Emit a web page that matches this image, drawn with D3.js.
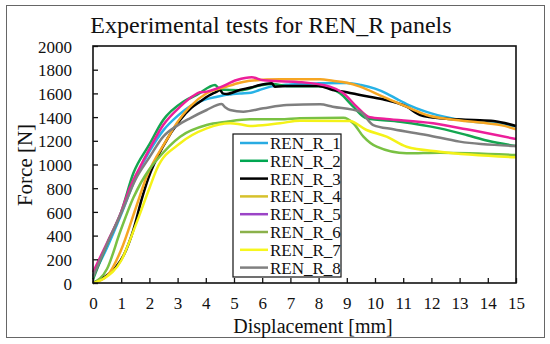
<!DOCTYPE html>
<html>
<head>
<meta charset="utf-8">
<script src="https://cdn.jsdelivr.net/npm/d3@7"></script>
<style>
  body { margin: 0; background: #fff; }
</style>
</head>
<body>
<svg width="550" height="344"></svg>
<script>
// displacement [mm], force [N]
var ren1 = [[0,60],[0.5,300],[1,580],[1.5,880],[2,1110],[2.5,1290],[3,1410],[3.5,1500],[4,1550],[4.4,1572],[4.8,1590],[5.2,1600],[5.6,1606],[5.9,1629],[6.3,1657],[7,1675],[8,1685],[9,1688],[9.5,1671],[10,1640],[10.4,1601],[10.8,1550],[11.2,1502],[11.8,1446],[12.7,1390],[13.5,1361],[14.4,1345],[15,1320]];
var ren2 = [[0,30],[0.5,330],[1,600],[1.43,926],[2,1170],[2.49,1376],[3.2,1530],[3.68,1587],[4.33,1671],[4.5,1632],[5.2,1626],[5.92,1666],[6.34,1680],[7,1660],[8,1660],[8.4,1645],[8.76,1601],[9.23,1488],[9.7,1390],[10.89,1361],[12.3,1305],[13.25,1249],[14,1200],[15,1156]];
var ren3 = [[0,0],[0.4,50],[0.8,130],[1.1,240],[1.43,447],[1.73,710],[1.96,883],[2.5,1160],[3.09,1376],[3.5,1480],[3.79,1530],[4.1,1580],[4.39,1615],[4.5,1629],[4.6,1600],[4.74,1595],[5.2,1629],[5.6,1650],[5.92,1671],[6.34,1685],[6.45,1657],[7,1662],[8,1662],[8.5,1629],[9,1610],[9.47,1586],[10.28,1550],[11.12,1488],[11.6,1418],[12.3,1390],[13.5,1376],[14.2,1367],[15,1325]];
var ren4 = [[0,0],[0.5,60],[1,280],[1.5,620],[1.9,897],[2.61,1207],[3,1360],[3.44,1488],[4.03,1601],[4.74,1657],[5.2,1690],[5.57,1707],[6.63,1719],[8.05,1719],[8.5,1707],[9,1690],[9.47,1657],[10.28,1572],[11.12,1488],[11.83,1418],[12.66,1381],[13.96,1348],[14.5,1330],[15,1297]];
var ren5 = [[0,90],[0.5,340],[1,600],[1.3,800],[1.67,981],[2,1130],[2.49,1333],[3.09,1488],[3.56,1580],[3.79,1609],[4.03,1615],[4.5,1651],[5.1,1713],[5.63,1736],[6.04,1710],[7.22,1697],[8.4,1657],[8.88,1601],[9.35,1488],[9.82,1398],[10.4,1384],[12.06,1348],[13.25,1297],[15,1215]];
var ren6 = [[0,0],[0.5,120],[0.96,430],[1.43,720],[2,960],[2.26,1038],[3.09,1235],[4.03,1333],[4.74,1361],[5.57,1381],[6.63,1381],[7.34,1390],[8.88,1395],[9.23,1348],[9.59,1235],[10.06,1150],[11.12,1094],[12.3,1100],[15,1080]];
var ren7 = [[0,0],[0.4,40],[1,190],[1.5,480],[2,800],[2.26,960],[3.09,1179],[4.03,1305],[4.86,1348],[5.2,1340],[5.57,1325],[6.63,1348],[7.34,1370],[9.1,1367],[9.7,1291],[10.41,1235],[11.12,1150],[12.3,1108],[15,1061]];
var ren8 = [[0,50],[0.5,330],[1,590],[1.5,870],[2,1060],[2.49,1235],[3,1330],[3.44,1390],[4.03,1460],[4.56,1511],[4.7,1480],[4.86,1460],[5.33,1446],[6.04,1474],[6.87,1502],[8.05,1508],[8.5,1488],[9.47,1446],[9.94,1333],[10.65,1297],[11.83,1249],[13,1193],[15,1156]];

var seriesNames = ['REN_R_1', 'REN_R_2', 'REN_R_3', 'REN_R_4', 'REN_R_5', 'REN_R_6', 'REN_R_7', 'REN_R_8'];
var seriesData = [ren1, ren2, ren3, ren4, ren5, ren6, ren7, ren8];
var lineColors = ['#27b2e6', '#14a650', '#000000', '#f6a623', '#ec1f9a', '#79c143', '#f4f218', '#7f7f7f'];
var legendColors = ['#29abe2', '#00a651', '#000000', '#d6c12c', '#9b44c6', '#8bb14b', '#f7f71e', '#808080'];
var xTicks = d3.range(0, 16, 1);
var yTicks = d3.range(0, 2001, 200);

var serif = "'Liberation Serif', 'DejaVu Serif', serif";

var svg = d3.select('svg');
var padding = {t: 46, r: 34, b: 61, l: 93};
var chartWidth = +svg.attr('width') - padding.l - padding.r;
var chartHeight = +svg.attr('height') - padding.t - padding.b;

// outer frame
svg.append('rect')
    .attr('x', 6.5).attr('y', 5.5)
    .attr('width', 538).attr('height', 332)
    .attr('fill', 'none')
    .attr('stroke', '#666')
    .attr('stroke-width', 1);

svg.append('text')
    .attr('x', 271).attr('y', 33)
    .attr('text-anchor', 'middle')
    .attr('font-family', serif)
    .attr('font-size', 24)
    .attr('fill', '#111')
    .text('Experimental tests for REN_R panels');

var chartG = svg.append('g')
    .attr('transform', 'translate(' + [padding.l, padding.t] + ')');

var xScale = d3.scaleLinear().domain([0, 15]).range([0, chartWidth]);
var yScale = d3.scaleLinear().domain([0, 2000]).range([chartHeight, 0]);

// ticks point inward, labels sit outside
var xAxis = d3.axisBottom(xScale).tickValues(xTicks).tickFormat(d3.format('d'))
    .tickSizeInner(-5).tickSizeOuter(0).tickPadding(14);
var yAxis = d3.axisLeft(yScale).tickValues(yTicks).tickFormat(d3.format('d'))
    .tickSizeInner(-5).tickSizeOuter(0).tickPadding(21);

var line = d3.line()
    .x(function(d) { return xScale(d[0]); })
    .y(function(d) { return yScale(d[1]); })
    .curve(d3.curveMonotoneX);

chartG.selectAll('path.series')
    .data(seriesData)
    .enter()
    .append('path')
    .attr('class', 'series')
    .attr('d', line)
    .attr('fill', 'none')
    .attr('stroke', function(d, i) { return lineColors[i]; })
    .attr('stroke-width', 2.5)
    .attr('stroke-linejoin', 'round');

chartG.append('g')
    .attr('class', 'x-axis')
    .attr('transform', 'translate(0,' + chartHeight + ')')
    .call(xAxis);

chartG.append('g')
    .attr('class', 'y-axis')
    .call(yAxis);

chartG.selectAll('.x-axis, .y-axis')
    .attr('font-family', serif)
    .attr('font-size', 17);
chartG.selectAll('.tick line').attr('stroke', '#111').attr('stroke-width', 1.3);
chartG.selectAll('.domain').remove();
chartG.selectAll('.tick text').attr('fill', '#111');
chartG.selectAll('.y-axis .tick text').attr('dy', '0.36em');

chartG.append('rect')
    .attr('width', chartWidth).attr('height', chartHeight)
    .attr('fill', 'none')
    .attr('stroke', '#111')
    .attr('stroke-width', 1.6);

svg.append('text')
    .attr('class', 'x-label')
    .attr('x', 313).attr('y', 333)
    .attr('text-anchor', 'middle')
    .attr('font-family', serif)
    .attr('font-size', 20)
    .attr('fill', '#111')
    .text('Displacement [mm]');

svg.append('text')
    .attr('class', 'y-label')
    .attr('transform', 'translate(32, 165) rotate(-90)')
    .attr('text-anchor', 'middle')
    .attr('font-family', serif)
    .attr('font-size', 21)
    .attr('fill', '#111')
    .text('Force [N]');

// legend
var legendG = chartG.append('g')
    .attr('transform', 'translate(' + [140, 88] + ')');

legendG.append('rect')
    .attr('width', 108).attr('height', 143)
    .attr('fill', '#fff')
    .attr('stroke', '#111')
    .attr('stroke-width', 1.2);

var rows = legendG.selectAll('g.row')
    .data(seriesNames)
    .enter()
    .append('g')
    .attr('class', 'row')
    .attr('transform', function(d, i) { return 'translate(0,' + (9 + i * 17.8) + ')'; });

rows.append('line')
    .attr('x1', 7).attr('x2', 35)
    .attr('stroke', function(d, i) { return legendColors[i]; })
    .attr('stroke-width', 2.5);

rows.append('text')
    .attr('x', 37)
    .attr('dy', '0.35em')
    .attr('font-family', serif)
    .attr('font-size', 17)
    .attr('fill', '#111')
    .text(function(d) { return d; });
</script>
</body>
</html>
